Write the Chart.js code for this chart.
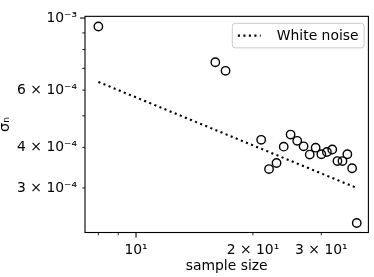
<!DOCTYPE html>
<html>
<head>
<meta charset="utf-8">
<script src="https://cdn.jsdelivr.net/npm/chart.js@4"></script>
<style>
html, body { margin: 0; padding: 0; background: #fff; }
</style>
</head>
<body>
<canvas id="sigmaChart" width="374" height="277"></canvas>
<script>
// measured points
const sampleSizes = [8, 16, 17, 21, 22, 23, 24, 25, 26, 27, 28, 29, 30, 31, 32, 33, 34, 35, 36, 37];
const sigmaN = [9.42e-4, 7.31e-4, 6.88e-4, 4.22e-4, 3.43e-4, 3.58e-4, 4.02e-4, 4.38e-4, 4.19e-4, 4.03e-4,
                3.80e-4, 3.99e-4, 3.81e-4, 3.87e-4, 3.94e-4, 3.63e-4, 3.63e-4, 3.81e-4, 3.45e-4, 2.34e-4];

// white noise reference line (end points)
const noiseX = [8, 37];
const noiseY = [6.36e-4, 3.0e-4];

// ticks
const xTicks = [8, 9, 10, 20, 30];
const xTickLabels = ['', '', '10¹', '2 × 10¹', '3 × 10¹'];
const yTicks = [3e-4, 4e-4, 5e-4, 6e-4, 7e-4, 8e-4, 9e-4, 1e-3];
const yTickLabels = ['3 × 10⁻⁴', '4 × 10⁻⁴', '', '6 × 10⁻⁴', '', '', '', '10⁻³'];

Chart.defaults.font.family = 'DejaVu Sans';
Chart.defaults.color = '#000';

function isDecade(v) {
    const l = Math.log10(v);
    return Math.abs(l - Math.round(l)) < 1e-6;
}

// draws the box, the matplotlib style ticks and the legend
const frameAndLegend = {
    id: 'frameAndLegend',
    afterDraw(chart) {
        const ctx = chart.ctx;
        const area = chart.chartArea;
        const xs = chart.scales.x;
        const ys = chart.scales.y;
        ctx.save();
        ctx.strokeStyle = '#000';

        xTicks.forEach(v => {
            const px = xs.getPixelForValue(v);
            const major = isDecade(v);
            ctx.lineWidth = major ? 1.1 : 0.85;
            ctx.beginPath();
            ctx.moveTo(px, area.bottom);
            ctx.lineTo(px, area.bottom + (major ? 4.9 : 2.8));
            ctx.stroke();
        });
        yTicks.forEach(v => {
            const py = ys.getPixelForValue(v);
            const major = isDecade(v);
            ctx.lineWidth = major ? 1.1 : 0.85;
            ctx.beginPath();
            ctx.moveTo(area.left, py);
            ctx.lineTo(area.left - (major ? 4.9 : 2.8), py);
            ctx.stroke();
        });

        ctx.lineWidth = 1.1;
        ctx.strokeRect(area.left, area.top, area.right - area.left, area.bottom - area.top);

        // legend
        const ds = chart.data.datasets[1];
        const fs = 13.9;
        ctx.font = fs + 'px "DejaVu Sans"';
        const tw = ctx.measureText(ds.label).width;
        const pad = 0.4 * fs, handle = 2 * fs, gap = 0.8 * fs;
        const w = pad + handle + gap + tw + pad;
        const h = 24.5;
        const bx = area.right - 4.3 - w;
        const by = area.top + 7;
        ctx.beginPath();
        ctx.roundRect(bx, by, w, h, 2.8);
        ctx.fillStyle = 'rgba(255,255,255,0.8)';
        ctx.fill();
        ctx.strokeStyle = '#cccccc';
        ctx.lineWidth = 1;
        ctx.stroke();

        ctx.strokeStyle = ds.borderColor;
        ctx.lineWidth = ds.borderWidth;
        ctx.setLineDash(ds.borderDash);
        ctx.beginPath();
        ctx.moveTo(bx + pad, by + h / 2);
        ctx.lineTo(bx + pad + handle - 5, by + h / 2);
        ctx.stroke();
        ctx.setLineDash([]);

        ctx.fillStyle = '#000';
        ctx.textBaseline = 'middle';
        ctx.fillText(ds.label, bx + pad + handle + gap, by + h / 2 + 0.5);
        ctx.restore();
    }
};

new Chart(document.getElementById('sigmaChart'), {
    type: 'scatter',
    data: {
        datasets: [{
            label: 'data',
            data: sampleSizes.map((n, i) => ({x: n, y: sigmaN[i]})),
            pointStyle: 'circle',
            pointRadius: 4.2,
            pointBorderWidth: 1.4,
            borderColor: '#000',
            backgroundColor: 'rgba(0,0,0,0)'
        }, {
            label: 'White noise',
            data: noiseX.map((n, i) => ({x: n, y: noiseY[i]})),
            showLine: true,
            pointRadius: 0,
            borderColor: '#000',
            borderWidth: 2.1,
            borderDash: [2.1, 3.4],
            borderCapStyle: 'butt'
        }]
    },
    options: {
        responsive: false,
        animation: false,
        layout: { padding: { top: 5, right: 3, left: 0, bottom: 0 } },
        plugins: {
            legend: { display: false },
            tooltip: { enabled: false }
        },
        scales: {
            x: {
                type: 'logarithmic',
                min: 7.39,
                max: 39.65,
                bounds: 'data',
                grid: { display: false, drawTicks: false },
                border: { display: false },
                ticks: {
                    autoSkip: false,
                    maxRotation: 0,
                    padding: 10,
                    font: { size: 13.9 },
                    color: '#000',
                    callback: (v, i) => xTickLabels[i]
                },
                afterBuildTicks: s => { s.ticks = xTicks.map(v => ({value: v})); },
                afterFit: s => { s.height = 44.5; },
                title: {
                    display: true,
                    text: 'sample size',
                    font: { size: 13.9 },
                    color: '#000',
                    padding: { top: 0, bottom: 2.5 }
                }
            },
            y: {
                type: 'logarithmic',
                min: 2.188e-4,
                max: 1.0122e-3,
                bounds: 'data',
                grid: { display: false, drawTicks: false },
                border: { display: false },
                ticks: {
                    autoSkip: false,
                    padding: 8,
                    font: { size: 13.9 },
                    color: '#000',
                    callback: (v, i) => yTickLabels[i]
                },
                afterBuildTicks: s => { s.ticks = yTicks.map(v => ({value: v})); },
                afterFit: s => { s.width = 85; },
                title: {
                    display: true,
                    text: 'σₙ',
                    font: { size: 14.5 },
                    color: '#000',
                    padding: { top: -3.5, bottom: 0 }
                }
            }
        }
    },
    plugins: [frameAndLegend]
});
</script>
</body>
</html>
